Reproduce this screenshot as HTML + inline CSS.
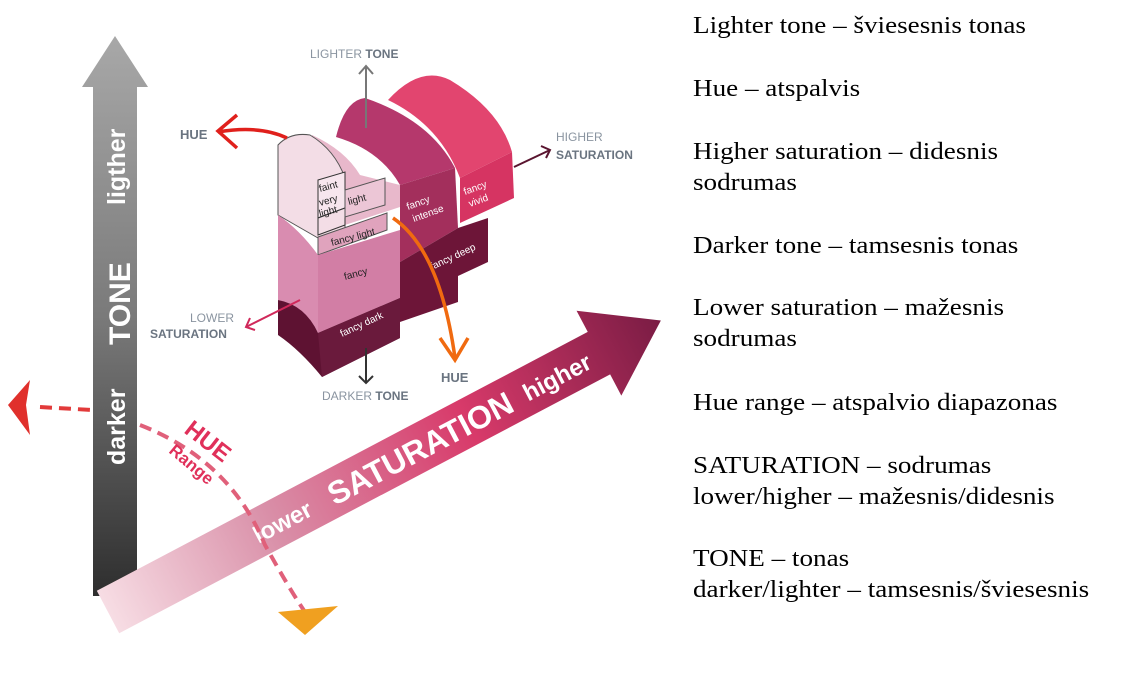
<!DOCTYPE html>
<html><head><meta charset="utf-8"><style>
html,body{margin:0;padding:0;background:#fff;}
body{width:1136px;height:673px;overflow:hidden;position:relative;}
.t{position:absolute;left:693px;font-family:"Liberation Serif",serif;font-size:24px;color:#000;line-height:31px;white-space:nowrap;transform:scaleX(1.13);transform-origin:0 0;margin-top:3px;}
</style></head><body>
<svg width="1136" height="673" style="position:absolute;left:0;top:0" font-family="Liberation Sans, sans-serif">
<defs>
<linearGradient id="tg" x1="0" y1="0" x2="0" y2="1">
<stop offset="0" stop-color="#a8a8a8"/><stop offset="0.5" stop-color="#7a7a7a"/><stop offset="1" stop-color="#2e2e2e"/></linearGradient>
<linearGradient id="sg" x1="0" y1="0" x2="1" y2="0">
<stop offset="0" stop-color="#f7dde4"/><stop offset="0.3" stop-color="#d98fa8"/><stop offset="0.65" stop-color="#d83a6a"/><stop offset="1" stop-color="#7a1c44"/></linearGradient>
</defs>
<polygon points="115,36 148,87 137,87 137,596 93,596 93,87 82,87" fill="url(#tg)"/>
<g fill="#fff" font-weight="bold">
<text transform="translate(125,205) rotate(-90)" font-size="25">ligther</text>
<text transform="translate(130,345) rotate(-90)" font-size="30">TONE</text>
<text transform="translate(125,465) rotate(-90)" font-size="25">darker</text>
</g>
<g transform="translate(108,612) rotate(-27.8)">
<polygon points="0,-24 555,-24 555,-48 625,0 555,48 555,24 0,24" fill="url(#sg)"/>
<g fill="#fff" font-weight="bold">
<text x="165" y="10" font-size="24">lower</text>
<text x="250" y="12" font-size="32">SATURATION</text>
<text x="470" y="10" font-size="24">higher</text>
</g>
</g>
<path d="M40,407 L92,410" stroke="#e23a3a" stroke-width="4" stroke-dasharray="12,7" fill="none"/>
<path d="M140,425 Q230,460 265,545 Q290,590 305,612" stroke="#e0607a" stroke-width="4" stroke-dasharray="12,7" fill="none"/>
<polygon points="8,405 30,380 26,405 30,435" fill="#e0302c"/>
<polygon points="278,612 338,606 305,635" fill="#f0a020"/>
<text transform="translate(183,432) rotate(38)" font-size="24" font-weight="bold" fill="#e0305a">HUE</text>
<text transform="translate(168,452) rotate(40)" font-size="17" font-weight="bold" fill="#e0305a">Range</text>
<path d="M388,100 Q420,65 450,80 Q500,110 512,152 L460,178 Q440,125 388,100 Z" fill="#e2456f"/>
<polygon points="460,178 512,152 514,198 460,223" fill="#d63462"/>
<path d="M336,137 Q345,100 365,98 Q430,120 455,168 L400,185 Q380,150 336,137 Z" fill="#b5386c"/>
<polygon points="400,185 455,168 458,228 400,262" fill="#a32f5c"/>
<polygon points="400,262 458,228 488,218 488,262 458,276 458,302 400,322" fill="#6d1538"/>
<path d="M312,135 Q345,150 360,175 L400,185 L400,207 L345,225 Q322,200 300,190 Z" fill="#e8b8cb"/>
<path d="M278,145 Q290,132 310,135 Q335,150 345,178 L345,228 L318,238 L278,215 Z" fill="#f3dde6" stroke="#555" stroke-width="1"/>
<polygon points="318,180 345,172 345,208 318,218" fill="#f7e6ee" stroke="#333" stroke-width="1"/>
<polygon points="318,218 345,208 345,225 318,235" fill="#f3dde6" stroke="#333" stroke-width="1"/>
<polygon points="345,190 385,178 385,205 345,217" fill="#ecc6d6" stroke="#555" stroke-width="1"/>
<polygon points="318,237 387,213 387,230 318,255" fill="#e0a3bd" stroke="#555" stroke-width="1"/>
<path d="M278,215 Q300,230 318,255 L318,333 Q300,305 278,300 Z" fill="#d98cb0"/>
<polygon points="318,255 400,230 400,298 318,333" fill="#d27ea5"/>
<path d="M278,300 Q305,305 318,333 L400,298 L400,338 L322,377 Q300,350 278,335 Z" fill="#5e1232"/>
<path d="M318,333 L400,298 L400,338 L322,377 Z" fill="#6a1a3c"/>
<g font-size="10" fill="#222">
<text x="320" y="192" transform="rotate(-15 320 192)">faint</text>
<text x="320" y="206" transform="rotate(-15 320 206)">very</text>
<text x="320" y="217" transform="rotate(-15 320 217)">light</text>
<text x="349" y="205" transform="rotate(-15 349 205)">light</text>
<text x="332" y="246" transform="rotate(-15 332 246)">fancy light</text>
<text x="345" y="280" transform="rotate(-15 345 280)">fancy</text>
</g>
<g font-size="10" fill="#fff">
<text x="408" y="210" transform="rotate(-20 408 210)">fancy</text>
<text x="414" y="222" transform="rotate(-20 414 222)">intense</text>
<text x="465" y="195" transform="rotate(-20 465 195)">fancy</text>
<text x="470" y="207" transform="rotate(-20 470 207)">vivid</text>
<text x="432" y="270" transform="rotate(-25 432 270)">fancy deep</text>
<text x="342" y="337" transform="rotate(-25 342 337)">fancy dark</text>
</g>
<line x1="366" y1="128" x2="366" y2="66" stroke="#777" stroke-width="2"/>
<polyline points="359,74 366,66 373,74" stroke="#777" stroke-width="2" fill="none"/>
<text x="310" y="58" font-size="12" fill="#8a94a0">LIGHTER <tspan font-weight="bold" fill="#6a7480">TONE</tspan></text>
<line x1="366" y1="348" x2="366" y2="383" stroke="#333" stroke-width="2"/>
<polyline points="359,376 366,383 373,376" stroke="#333" stroke-width="2" fill="none"/>
<text x="322" y="400" font-size="12" fill="#8a94a0">DARKER <tspan font-weight="bold" fill="#6a7480">TONE</tspan></text>
<line x1="514" y1="167" x2="550" y2="150" stroke="#5a1530" stroke-width="2"/>
<polyline points="541,146 550,150 546,158" stroke="#5a1530" stroke-width="2" fill="none"/>
<text x="556" y="141" font-size="12" fill="#8a94a0">HIGHER</text>
<text x="556" y="159" font-size="12" font-weight="bold" fill="#6a7480">SATURATION</text>
<line x1="300" y1="300" x2="246" y2="327" stroke="#d0285a" stroke-width="2"/>
<polyline points="250,318 246,327 255,330" stroke="#d0285a" stroke-width="2" fill="none"/>
<text x="190" y="322" font-size="12" fill="#8a94a0">LOWER</text>
<text x="150" y="338" font-size="12" font-weight="bold" fill="#6a7480">SATURATION</text>
<path d="M287,138 Q260,125 218,132" stroke="#e0201c" stroke-width="3.5" fill="none"/>
<polyline points="237,115 218,131 237,148" stroke="#e0201c" stroke-width="3.5" fill="none"/>
<text x="180" y="139" font-size="13" font-weight="bold" fill="#6a7480">HUE</text>
<path d="M393,218 Q440,250 455,358" stroke="#f06a10" stroke-width="3.5" fill="none"/>
<polyline points="440,338 455,360 468,338" stroke="#f06a10" stroke-width="3.5" fill="none"/>
<text x="441" y="382" font-size="13" font-weight="bold" fill="#6a7480">HUE</text>
</svg>
<div class="t" style="top:8px">Lighter tone – šviesesnis tonas</div>
<div class="t" style="top:71px">Hue – atspalvis</div>
<div class="t" style="top:134px">Higher saturation – didesnis<br>sodrumas</div>
<div class="t" style="top:228px">Darker tone – tamsesnis tonas</div>
<div class="t" style="top:290px">Lower saturation – mažesnis<br>sodrumas</div>
<div class="t" style="top:385px">Hue range – atspalvio diapazonas</div>
<div class="t" style="top:448px">SATURATION – sodrumas<br>lower/higher – mažesnis/didesnis</div>
<div class="t" style="top:541px">TONE – tonas<br>darker/lighter – tamsesnis/šviesesnis</div>
</body></html>
